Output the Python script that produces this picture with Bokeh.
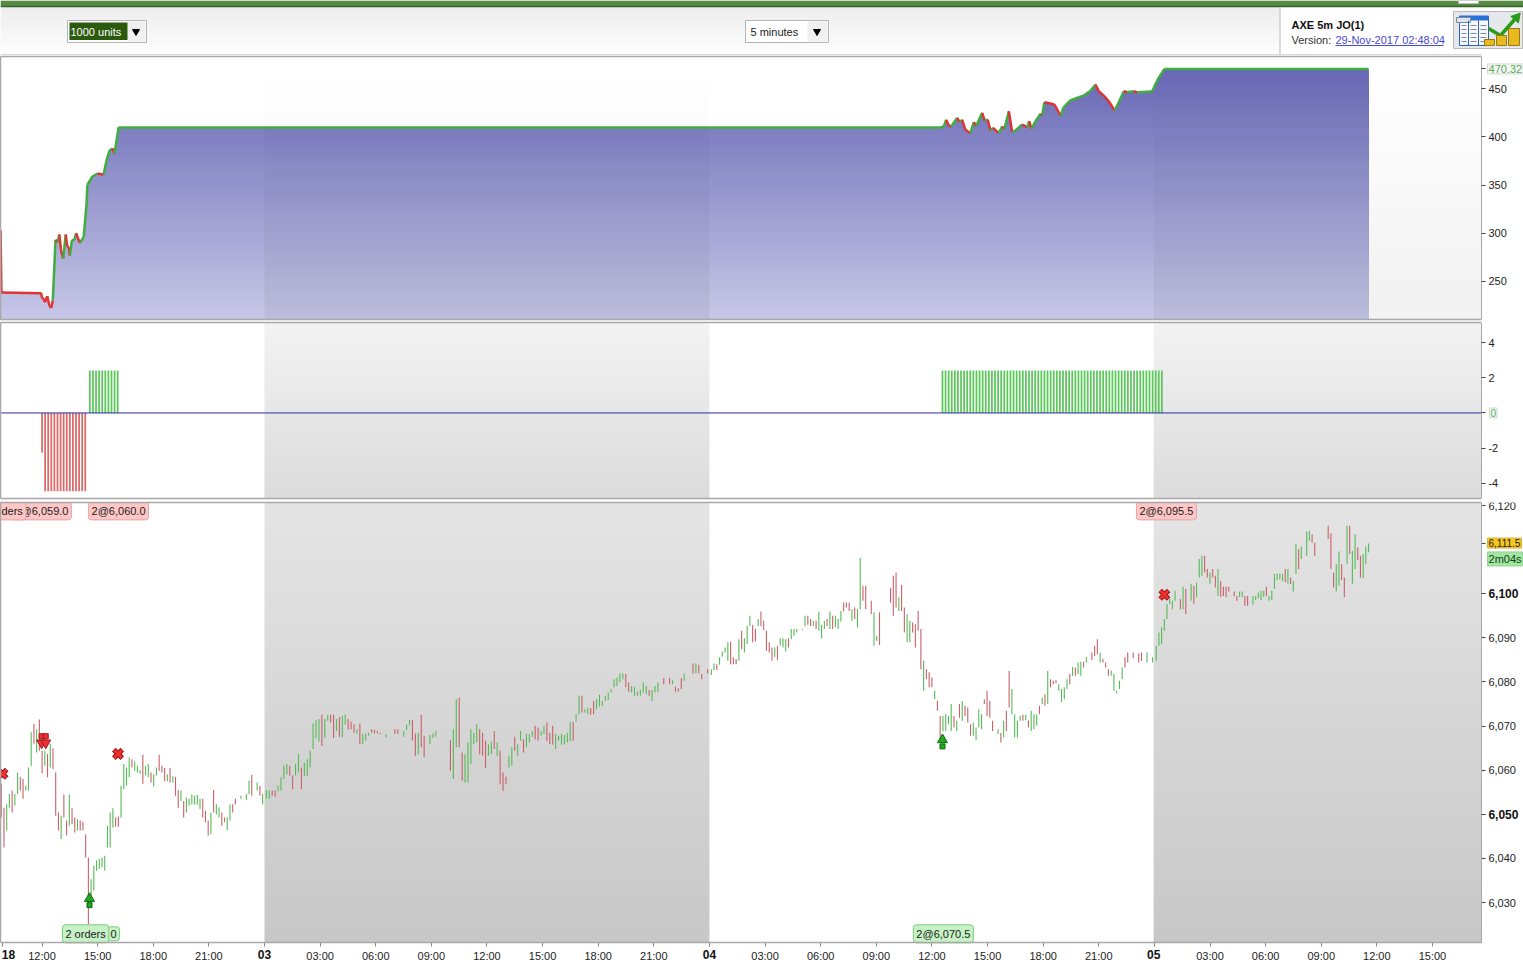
import numpy as np
from bokeh.plotting import figure
from bokeh.layouts import column
from bokeh.models import Label, Span, FixedTicker, LinearAxis
from bokeh.embed import file_html
from bokeh.resources import INLINE

FONT = "Liberation Sans"

# --- Prices, one list per session: bar highs, bar lows, R/G direction ('.' = no bar)
high_1 = [6057.0,6051.5,6052.3,6054.6,6055.4,6054.6,6059.4,6058.5,6058.0,6056.5,6060.6,6068.6,6070.5,6069.3,6071.5,6064.4,6064.4,6063.7,6066.0,6065.0,6059.5,6050.4,6049.7,6054.5,6048.6,6054.5,6051.4,6049.3,6048.9,6048.6,6048.3,6045.4,6040.2,6035.3,6038.4,6039.5,6039.9,6040.2,6040.6,6047.4,6050.4,6051.4,6049.3,6049.5,6056.5,6061.4,6060.6,6062.9,6062.5,6062.0,6061.0,6060.0,6063.5,6061.0,6061.4,6059.5,6059.1,6060.6,6063.5,6061.0,6060.5,6059.1,6060.5,6058.6,6058.5,6055.5,6055.4,6053.0,6053.8,6053.5,6054.5,6054.2,6054.4,6053.5,6053.5,6050.8,6048.6,6050.4,6055.5,6052.3,6051.6,6050.4,6049.3,6049.3,6052.2,6052.3,6053.5,None,6054.2,None,6054.6,6057.6,6058.9,None,6057.2,6056.5,6054.6]
low_1 = [6049.3,6042.5,6046.3,6051.5,6050.4,6052.0,6054.6,6055.4,6053.5,6055.4,6055.4,6061.0,6066.0,6064.0,6064.4,6059.3,6061.0,6058.4,6060.6,6060.3,6049.7,6046.3,6044.4,6049.3,6045.2,6047.4,6047.8,6045.9,6046.3,6046.3,6046.3,6040.2,6025.1,6031.5,6032.7,6037.2,6037.6,6038.0,6037.2,6042.5,6042.5,6047.0,6047.2,6047.2,6049.3,6055.7,6056.5,6058.4,6060.6,6059.9,6059.5,6059.2,6056.9,6058.8,6058.4,6057.2,6056.3,6058.8,6059.9,6059.5,6057.5,6057.5,6057.2,6057.2,6054.2,6051.4,6053.0,6049.3,6050.4,6052.0,6052.2,6052.2,6052.2,6051.2,6049.3,6048.2,6045.2,6045.5,6050.4,6050.0,6049.3,6047.4,6048.2,6046.4,6048.6,6050.4,6052.2,None,6053.5,None,6053.2,6054.6,6054.2,None,6055.4,6054.2,6052.2]
dir_1 = "RRGGRGGRRGGGRGRRGRGRRRGRRGRRGRRRRGGGGGGGGGRRGGGGRGGGRGGRGGRRRGRGRRGRGGGGGGRRRGRGGRRGGRR.G.GGR.GRG"

high_2 = [6055.5,6055.4,6055.4,6055.4,6056.5,6058.4,6061.0,6061.4,6061.0,6058.8,6061.4,6063.7,6060.6,6061.7,6062.5,6064.4,6070.6,6071.4,6071.6,6072.6,6071.6,6072.6,6072.6,6072.6,6071.6,6072.0,6072.3,6072.6,6071.6,6071.0,6070.4,6069.3,6070.6,6068.2,6068.3,6068.5,6069.3,6069.2,6068.9,6068.5,None,6068.2,None,None,6069.3,6069.3,None,6068.9,6070.3,6071.4,6071.4,6068.3,6068.5,6072.6,6067.8,None,6068.0,6068.3,6068.9,None,None,None,None,6066.8,6069.3,6076.1,6076.5,6064.0,6063.6,6066.3,6069.3,6068.5,6070.4,6069.3,6068.5,6066.7,6065.9,6066.5,6068.9,6066.3,6064.4,6059.5,6058.5,6063.3,6065.2,6067.6,6065.9,6068.9,6067.0,6068.2,6068.2,6068.9,6070.1,6069.7,6068.9,6070.1,6070.8,6068.5,6070.1,6068.2,6067.8,6068.2,6068.0,6068.5,6071.0,6071.0,6072.7,6076.9,6076.9,6073.8,6074.2,6074.1,6075.7,6076.1,6077.1,6075.7,6076.9,6077.6,6078.4,6080.6,6081.0,6081.9,6081.9,6081.8,6079.9,6079.1,6078.9,6077.8,6078.2,6079.9,6079.1,6078.2,6078.2,6079.1,6079.9,None,6080.9,None,6080.9,6080.4,6078.9,6078.6,6080.9,6081.9,None,None,6084.2,6084.2,6083.9,6081.8,None,6082.9]
low_2 = [6053.5,6053.5,6054.2,6054.0,6055.2,6055.4,6058.0,6059.1,6058.8,6055.7,6058.8,6059.5,6055.7,6058.7,6058.7,6060.6,6064.8,6067.3,6066.5,6065.5,6067.3,6071.2,6070.8,6067.3,6068.9,6067.6,6067.4,6070.3,6069.3,6069.3,6068.5,6068.2,6065.9,6065.9,6066.7,6067.8,6068.5,6068.3,6068.3,6068.2,None,6067.4,None,None,6068.2,6068.2,None,6067.6,6069.1,6070.1,6066.7,6063.3,6063.6,6065.2,6063.0,None,6065.9,6067.3,6067.6,None,None,None,None,6059.9,6058.0,6065.2,6065.2,6057.6,6057.2,6057.2,6061.4,6065.9,6066.3,6063.6,6063.3,6060.5,6063.3,6063.6,6064.8,6063.3,6056.8,6055.3,6056.8,6060.6,6061.0,6064.4,6063.3,6066.7,6064.0,6065.2,6066.3,6067.6,6067.0,6066.7,6067.8,6068.2,6066.7,6065.9,6065.8,6064.8,6066.7,6065.8,6065.8,6066.3,6066.5,6066.7,6071.0,6072.7,6073.1,6073.1,6072.7,6072.6,6072.7,6073.8,6074.4,6074.6,6075.7,6075.9,6077.6,6078.8,6079.1,6079.9,6080.6,6078.8,6077.8,6077.6,6076.9,6076.9,6076.9,6077.6,6077.2,6076.9,6075.7,6077.6,6077.8,None,6079.5,None,6079.5,6079.5,6077.8,6077.8,6078.4,6080.3,None,None,6081.9,6081.9,6081.9,6080.6,None,6081.9]
dir_2 = "GGRRGGGGRRGGRGGGGGGRGGRRGRGGRRRGRGGGRRRR.G..RR.GGGRRGRR.GGG....RGGRRGGGGGRRRGGRGRRRGGRGGRGGGRRGGRRRGGGGGGRGGRGGRRGGGGGGGGGGRRGGGGGGRGGGG.G.GRRRGG..GRRR.G"

high_3 = [6082.9,6084.2,6084.0,6085.6,6086.9,6087.8,6089.0,6089.2,6085.6,6085.2,6089.7,6091.6,6089.9,6092.7,6095.0,6093.0,6092.0,6094.3,6096.0,6093.9,6091.6,6089.0,6087.8,6087.8,6088.2,6089.9,6089.9,6089.7,6089.9,6092.0,6092.0,6092.0,None,6092.0,6095.0,6095.0,6094.3,6093.9,6093.9,6096.0,6093.0,6093.9,6094.3,6096.0,6095.0,6095.0,6094.3,6096.1,6098.0,6098.0,6098.0,6096.5,6096.9,6096.5,6108.1,6101.8,6101.8,None,6098.4,6095.8,6090.5,6095.8,None,None,None,6101.3,6104.1,6104.8,6099.2,6102.0,6096.9,6095.4,6093.9,6093.5,6093.1,6096.1,6092.0,6084.8,6082.9,6082.2,6081.0,6078.0,6075.7,6072.3,6072.3,6072.7,6072.3,6075.0,6072.3,6071.2,6075.0,6075.7,6074.6,6074.2,6070.4,6070.8,6069.7,6073.8,6072.7,6076.1,6078.0,6075.7,6071.2,None,6069.3,6068.5,6071.2,6073.5,6082.5,6078.4,6072.7,6071.2,6072.3,6072.6,6072.6,6071.3,6073.5,6072.7,6072.7,6074.6,6076.5,6077.2,6082.5,6080.6,6080.3,6080.4,6079.5,6078.4,6078.8,6080.6,6081.8,6083.4,6083.3,6084.4,6084.6,6084.6,6085.6,None,6086.7,6088.2,6089.7,6086.7,6085.2,6084.4,6082.9,6082.6,6081.8,6078.0,6080.3,6083.3,6085.6,6086.7,None,6086.7,None,6086.5,6086.7,None,6086.7,None,6085.6]
low_3 = [6081.6,6082.7,6082.7,6083.9,6085.7,6086.7,6084.8,6084.0,6084.0,6084.0,6084.8,6087.4,6086.7,6088.6,6092.7,6089.0,6089.2,6092.7,6092.7,6091.8,6087.1,6086.7,6084.8,6085.6,6085.0,6088.2,6087.8,6086.9,6087.8,6089.7,6090.5,6091.2,None,6091.8,6092.7,6093.0,6092.7,6092.7,6092.0,6091.6,6089.9,6092.0,6092.7,6092.0,6092.0,6092.4,6092.0,6093.7,6096.0,6096.9,6096.1,6093.9,6094.3,6092.4,6096.5,6098.4,6096.5,None,6095.4,6088.2,6089.3,6088.4,None,None,None,6098.0,6095.0,6096.9,6096.1,6096.1,6091.2,6089.0,6089.0,6091.2,6087.8,6091.6,6082.9,6078.0,6080.7,6078.8,6078.8,6076.1,6073.5,6066.7,6068.9,6068.9,6070.4,6068.9,6069.7,6068.9,6071.9,6071.2,6072.3,6070.8,6067.8,6067.8,6066.8,6069.7,6069.3,6075.0,6072.3,6071.9,6068.9,None,6068.2,6066.3,6067.4,6068.9,6074.2,6072.7,6067.4,6067.4,6071.2,6071.2,6071.3,6069.7,6068.9,6069.3,6070.1,6072.7,6075.0,6074.6,6075.0,6078.8,6079.5,6079.7,6078.0,6075.4,6076.1,6078.4,6079.5,6081.4,6081.4,6081.8,6081.4,6083.3,6084.4,None,6085.0,6085.9,6086.3,6084.4,6084.4,6083.3,6081.4,6081.4,6078.0,6077.4,6078.4,6080.6,6083.3,6084.4,None,6085.4,None,6084.4,6084.8,None,6084.4,None,6084.4]
dir_3 = "GGRGGGGRRRGRGGGRRGRRRRRGRGGGRGGG.GGRRGRGGGRGRGGGRRRGRGGR.RRGG...GRRRGRRGGRRRRGRRRGRRGGGGRGRGRRRGGGGRR.RGGRGRRGGGGRGRGGGRGRGRRRGGGGRGRGG.GGRRRGRRRGGGGG.R.RR.R.G"

high_4 = [6088.2,6091.2,6092.4,6094.3,6097.7,6098.8,6098.4,6100.7,None,6098.8,6101.6,6101.1,None,6102.3,6101.8,6102.6,6107.9,6108.6,6108.6,6105.6,6104.8,6105.6,6104.1,6105.6,6102.9,6101.6,6101.6,6101.6,None,6100.5,6099.5,6100.5,6100.5,6099.5,6099.5,None,6099.5,6099.5,6100.3,6100.7,6100.7,6101.6,6099.5,6100.7,6104.5,6104.6,6104.6,6104.5,6105.6,6105.6,6103.7,6102.9,6111.4,6110.1,6110.7,None,6114.1,6114.3,6113.5,6111.6,None,None,None,None,6115.4,6113.7,6104.8,6106.7,6109.6,6106.7,6103.7,6115.4,6115.4,6109.7,6113.5,6110.5,6108.6,6109.0,6110.7,6111.4]
low_4 = [6084.8,6088.2,6088.6,6091.6,6094.3,6097.7,6096.5,6098.4,None,6096.5,6096.5,6095.4,None,6098.4,6097.7,6099.2,6103.7,6104.1,6104.8,6103.7,6102.3,6103.7,6101.4,6099.5,6099.3,6099.5,6099.2,6100.5,None,6099.5,6098.4,6099.3,6099.3,6097.3,6097.3,None,6097.5,6098.6,6099.0,6098.6,6099.3,6099.5,6098.4,6098.6,6101.1,6103.1,6103.3,6102.9,6102.6,6102.3,6102.2,6100.5,6104.5,6105.6,6107.9,None,6108.6,6112.0,6111.6,6108.6,None,None,None,None,6112.4,6105.6,6101.4,6100.5,6101.8,6103.1,6099.3,6106.7,6109.0,6102.3,6105.6,6107.6,6103.7,6103.5,6106.7,6109.4]
dir_4 = "GGGGGGGG.RGR.GRGGGRRGRRGRRRR.RRGGRR.GGGGGRGGGGGGRGRGGRG.GGRR....RRRGGRRGRGGRRGGG"

# --- Equity curve: time in hours from the start of day 03, and equity value
equity_time = [-14.24,-14.19,-12.04,-12.01,-11.9,-11.85,-11.72,-11.6,-11.5,-11.42,-11.27,-11.15,-11.07,-10.97,-10.86,-10.72,-10.64,-10.56,-10.5,-10.39,-10.25,-10.16,-9.96,-9.83,-9.75,-9.6,-9.55,-9.28,-9.01,-8.68,-8.52,-8.36,-8.2,-8.09,-7.87,36.46,36.64,36.77,36.91,37.04,37.36,37.5,37.63,37.81,38.08,38.26,38.4,38.71,38.85,39.01,39.16,39.3,39.6,39.79,39.91,40.15,40.33,40.51,40.87,41.14,41.25,41.37,41.59,41.86,41.95,42.07,42.61,42.84,42.97,43.08,43.47,43.92,44.19,44.52,44.83,45.0,45.27,45.54,45.85,46.08,46.35,46.53,46.89,47.07,47.88,48.15,48.54,59.55]
equity_value = [303,238.6,237.9,233.1,232.1,228.5,234.8,224.8,222.7,230.3,293.2,290.7,298.7,282.1,273.5,298.7,286.3,285.5,276.9,292.5,293.2,300.1,289.7,294.2,295.9,330.5,350.5,358.8,361.9,360.9,375.4,385.8,387.8,382.6,409.6,409.6,410.6,417.6,411.7,410.6,419.6,415.1,417.6,407.2,403.7,415.1,411.7,424.8,416.8,417.6,406.5,409.3,403.7,410.6,408.2,426.5,404.7,406.5,412.7,409.9,416.1,408.2,416.1,423.8,422.0,435.8,433.4,425.4,422.0,430.0,437.6,441.0,442.7,447.2,454.1,447.2,442.7,436.8,427.2,435.8,447.2,446.2,447.2,446.2,446.9,458.3,470.32,470.32]

# --- Position size
position_red = [-2.24] + [-4.45] * 14
position_green_1 = [2.41] * 10
position_green_2 = [2.41] * 72

# --- Trades
exit_time = [-14.13, -7.9, 48.54]
exit_price = [6059.2, 6063.7, 6099.8]
short_time = [-12.02, -11.8]
short_price = [6066.9, 6066.9]
long_time = [-9.44, 36.57]
long_price = [6030.2, 6066.2]

# --- Ticks
equity_ticks = [250, 300, 350, 400, 450]
position_ticks = [-4, -2, 2, 4]
price_ticks = [6030, 6040, 6060, 6070, 6080, 6090, 6120]
price_bold_ticks = [6050, 6100]
hour_ticks = [-14.15] + list(range(-12, 64, 3))
hour_labels = {-12:"12:00",-9:"15:00",-6:"18:00",-3:"21:00",3:"03:00",6:"06:00",9:"09:00",12:"12:00",15:"15:00",18:"18:00",21:"21:00",27:"03:00",30:"06:00",33:"09:00",36:"12:00",39:"15:00",42:"18:00",45:"21:00",51:"03:00",54:"06:00",57:"09:00",60:"12:00",63:"15:00"}
day_labels = {-13.81:"18", 0:"03", 24:"04", 47.96:"05"}

XR = (-14.24, 67.91)   # the frame runs to the page edge; the plot proper ends at PLOT_END
PLOT_END = 65.64
GUTTER = 65.97         # left edge of the value tags beside the right axis
DAYS = [(0, 24), (47.96, PLOT_END)]
GREEN, RED = "#56bb56", "#c9606a"
W = 1523


def style_axis(ax, size="11px", style="normal", color="#222222", tick="#444444"):
    ax.major_label_text_font = FONT
    ax.major_label_text_font_size = size
    ax.major_label_text_font_style = style
    ax.major_label_text_color = color
    ax.major_label_standoff = 3
    ax.major_tick_out = 4
    ax.major_tick_in = 0
    ax.minor_tick_out = 0
    ax.minor_tick_in = 0
    ax.axis_line_color = "#a8a8a8"
    ax.major_tick_line_color = tick


def panel(height, yr, plot_bottom, top, ticks, bold=None, tag_ticks=()):
    p = figure(width=W, height=height, x_range=XR, y_range=yr, output_backend="svg",
               toolbar_location=None, min_border_left=0, min_border_right=0,
               min_border_top=top, min_border_bottom=0, y_axis_location=None,
               x_axis_location=None, background_fill_color="white", border_fill_color="white")
    p.grid.visible = False
    p.outline_line_color = None
    b = (plot_bottom, yr[1])
    ax = LinearAxis(fixed_location=PLOT_END, bounds=b, ticker=FixedTicker(ticks=list(ticks) + list(bold or []) + list(tag_ticks)))
    style_axis(ax)
    ax.major_label_overrides = {t: ("" if (t in (bold or []) or t in tag_ticks) else f"{t:,}") for t in ax.ticker.ticks}
    p.add_layout(ax, "right")
    if bold:
        ax2 = LinearAxis(fixed_location=PLOT_END, bounds=b, ticker=FixedTicker(ticks=list(bold)))
        style_axis(ax2, size="12px", style="bold", color="#111111")
        ax2.major_label_overrides = {t: f"{t:,}" for t in bold}
        p.add_layout(ax2, "right")
    # top, bottom and left edges of the plot box
    p.segment([XR[0], XR[0], XR[0]], [yr[1], plot_bottom, plot_bottom], [PLOT_END, PLOT_END, XR[0]],
              [yr[1], plot_bottom, yr[1]], line_color="#a8a8a8", line_width=1.5, level="overlay")
    return p


def shade(p, y0, y1, rgba_top, rgba_bot):
    for a, b in DAYS:
        img = np.zeros((128, 1, 4), np.uint8)
        t = np.linspace(0, 1, 128)[:, None]
        # row 0 of an image is its lowest row on screen
        img[:, :, :] = (np.array(rgba_bot) * (1 - t) + np.array(rgba_top) * t)[:, None, :].astype(np.uint8)
        p.image_rgba(image=[img.view(np.uint32).reshape(128, 1)], x=a, y=y0, dw=b - a, dh=y1 - y0)


def tag(p, text, x, y, bg, border, color="#222222", size="11px", pad=3, radius=3):
    p.add_layout(Label(x=x, y=y, text=text, text_font=FONT, text_font_size=size, text_color=color,
                       text_baseline="middle", background_fill_color=bg, border_line_color=border,
                       padding=pad, border_radius=radius))


# ---------- header ----------
head = figure(width=W, height=55, x_range=(0, W), y_range=(55, 0), output_backend="svg",
              toolbar_location=None, min_border=0, x_axis_location=None, y_axis_location=None,
              border_fill_color="white")
head.frame_align = False
head.grid.visible = False
head.outline_line_color = None
g = np.zeros((64, 1, 4), np.uint8)
tt = np.linspace(0, 1, 64)
for k in range(3):
    g[:, 0, k] = (235 + 20 * tt).astype(np.uint8)
g[:, 0, 3] = 255
head.image_rgba(image=[g.view(np.uint32).reshape(64, 1)], x=0, y=0, dw=W, dh=55)
head.quad(left=[1280], right=[W], top=[6], bottom=[55], fill_color="white", line_color=None)
head.quad(left=[0], right=[W], top=[0], bottom=[6], fill_color="#578a45", line_color=None)
head.segment(0, 6, W, 6, line_color="#35632a", line_width=1.5)
head.quad(left=[1458], right=[1478], top=[0], bottom=[3], fill_color="white", line_color="#bbbbbb")
head.segment(0, 54.5, 1481, 54.5, line_color="#b0b0b0")
head.quad(left=[67, 745], right=[146, 828], top=[20, 20], bottom=[42, 42], fill_color="white", line_color="#b4b4b4")
head.quad(left=[127, 807], right=[145, 827], top=[21, 21], bottom=[41, 41], fill_color="#f0f0f0", line_color=None)
head.quad(left=[69], right=[127], top=[22], bottom=[39.5], fill_color="#2b5a0e", line_color=None)
head.scatter([135.5, 816.5], [31, 31], marker="inverted_triangle", size=7, color="black")
head.text([70], [31], text=["1000 units"], text_font_size="11px", text_font={"value": FONT}, text_color="white", text_baseline="middle")
head.text([750], [31], text=["5 minutes"], text_font_size="11px", text_font={"value": FONT}, text_color="#222222", text_baseline="middle")
head.segment(1279.5, 8, 1279.5, 54, line_color="#bbbbbb")
head.text([1291], [24], text=["AXE 5m JO(1)"], text_font_size="11px", text_font_style="bold", text_font={"value": FONT}, text_color="#111111", text_baseline="middle")
head.text([1291], [39], text=["Version:"], text_font_size="11px", text_font={"value": FONT}, text_color="#333333", text_baseline="middle")
head.text([1335], [39], text=["29-Nov-2017 02:48:04"], text_font_size="11px", text_font={"value": FONT}, text_color="#4a4ad0", text_baseline="middle")
head.segment(1335, 45, 1443, 45, line_color="#4a4ad0")
# report icon
head.quad(left=[1453], right=[1522], top=[11], bottom=[48], fill_color="#e6e8ec", line_color="#b8b8b8")
head.quad(left=[1459], right=[1488], top=[16], bottom=[45], fill_color="#f6f8fc", line_color="#2b62b8")
head.quad(left=[1459], right=[1488], top=[15], bottom=[20], fill_color="#2b72d8", line_color=None)
head.quad(left=[1456], right=[1470], top=[17], bottom=[22], fill_color="#dfe6f0", line_color="#7a8aa0")
head.segment([1468, 1478], [20, 20], [1468, 1478], [45, 45], line_color="#2b62b8")
for row in [25, 29, 33, 37, 41]:
    head.segment([1461, 1470, 1480], [row, row, row], [1466, 1476, 1486], [row, row, row], line_color="#7a8aa0")
head.line([1488, 1500, 1515], [28, 35, 18], line_color="#2a9a1a", line_width=3.5)
head.scatter([1516], [17], marker="triangle", size=10, color="#2a9a1a", angle=-0.7)
head.quad(left=[1484, 1496, 1508], right=[1494, 1506, 1519], top=[39, 35, 28], bottom=[45, 45, 45], fill_color="#e8b820", line_color="#9a7a10")

# ---------- equity ----------
p1 = panel(266, (210.6, 483.2), 210.6, 1, equity_ticks, tag_ticks=(470.32,))
p1.min_border_bottom = 2
et, ev = np.array(equity_time), np.array(equity_value)
n_band = 48
edges = np.linspace(483.2, 210.6, n_band + 1)
for i in range(n_band):
    f = (i + 0.5) / n_band
    f2 = max(0.0, (f - 0.05) / 0.95)
    r = int(104 + (200 - 104) * f2)
    b = int(182 + (232 - 182) * f2)
    p1.varea(et, np.minimum(ev, edges[i]), 210.6, fill_color=f"#{r:02x}{r:02x}{b:02x}")
shade(p1, 210.6, 483.2, (0, 0, 0, 0), (0, 0, 0, 14))
n_red_start = 9
seg_color = ["#e03434" if (i < n_red_start or ev[i + 1] < ev[i]) else "#3fae3f" for i in range(len(et) - 1)]
p1.segment(et[:-1], ev[:-1], et[1:], ev[1:], line_color=seg_color, line_width=2.5)
tag(p1, "470.32", GUTTER, 470.32, "#f7f7f7", "#cfd8cf", color="#52b052", pad=1, radius=0)

# ---------- position ----------
p2 = panel(179, (-4.86, 5.14), -4.86, 1, position_ticks, tag_ticks=(0,))
p2.min_border_bottom = 2
shade(p2, -4.86, 5.14, (243, 243, 243, 255), (220, 220, 220, 255))
step = 1 / 6
red_t = -12.0 + step * np.arange(len(position_red))
g1_t = -9.42 + step * np.arange(len(position_green_1))
g2_t = 36.57 + step * np.arange(len(position_green_2))
p2.vbar(red_t, 0.095, 0, position_red, fill_color="#d96a6a", line_color=None)
p2.vbar(g1_t, 0.095, 0, position_green_1, fill_color="#5cc85c", line_color=None)
p2.vbar(g2_t, 0.095, 0, position_green_2, fill_color="#5cc85c", line_color=None)
p2.segment(XR[0], 0, PLOT_END, 0, line_color="#2a2aa8", line_width=1)
tag(p2, "0", GUTTER + 0.1, 0, "#f7f7f7", "#cfd8cf", color="#52b052", size="10px", pad=1, radius=0)

# ---------- price ----------
PRICE_BOTTOM = 6020.93
p3 = panel(463, (6016.17, 6120.7), PRICE_BOTTOM, 2, price_ticks, bold=price_bold_ticks, tag_ticks=(6111.5,))
shade(p3, PRICE_BOTTOM, 6120.7, (229, 229, 229, 255), (200, 200, 200, 255))
xs, lo, hi, col = [], [], [], []
for (h, l, d, a, b) in [(high_1, low_1, dir_1, -14.2, -0.1), (high_2, low_2, dir_2, 0.1, 23.9),
                        (high_3, low_3, dir_3, 24.1, 47.9), (high_4, low_4, dir_4, 48.1, 59.55)]:
    t = np.linspace(a, b, len(h))
    for i in range(len(h)):
        if h[i] is not None:
            xs.append(t[i]); hi.append(h[i]); lo.append(l[i])
            col.append(GREEN if d[min(i, len(d) - 1)] == "G" else RED)
p3.segment(xs, lo, xs, hi, line_color=col, line_width=1.1)

# trade markers
p3.scatter(exit_time, exit_price, marker="x", size=12, line_color="#9a1414", line_width=5)
p3.scatter(exit_time, exit_price, marker="x", size=11, line_color="#ee3030", line_width=3)
ls = np.array(long_price)
p3.scatter(long_time, ls - 0.8, marker="square", size=5, fill_color="#20a820", line_color="#0c6a0c")
p3.scatter(long_time, ls + 0.7, marker="triangle", size=10, fill_color="#20a820", line_color="#0c6a0c")
ss = np.array(short_price)
p3.scatter(short_time, ss + 0.8, marker="square", size=5, fill_color="#ee3038", line_color="#a01818")
p3.scatter(short_time, ss - 0.7, marker="inverted_triangle", size=10, fill_color="#ee3038", line_color="#a01818")

# order tags
PINK, PINK_E, MINT, MINT_E = "#ffc6c6", "#e6a6a6", "#c6f2c6", "#7ccc7c"
tag(p3, "2@6,059.0", -13.65, 6118.8, PINK, PINK_E)
tag(p3, "ders", -14.35, 6118.8, PINK, PINK_E)
tag(p3, "2@6,060.0", -9.49, 6118.8, PINK, PINK_E)
tag(p3, "2@6,095.5", 47.03, 6118.8, PINK, PINK_E)
tag(p3, "0", -8.47, 6022.9, MINT, MINT_E)
tag(p3, "2 orders", -10.9, 6022.9, MINT, MINT_E)
tag(p3, "2@6,070.5", 35.0, 6022.9, MINT, MINT_E)

# value tags beside the axis
tag(p3, "6,111.5", GUTTER, 6111.5, "#f6c71e", "#d8b030", size="10px", pad=1, radius=0)
tag(p3, "2m04s", GUTTER, 6107.9, "#a2e6a2", "#8ed68e", color="#114411", pad=1, radius=0)

# x axes: the hours, and the dates in bold on top of them
xa = LinearAxis(fixed_location=PRICE_BOTTOM, bounds=(XR[0], PLOT_END), ticker=FixedTicker(ticks=hour_ticks))
style_axis(xa, tick="#888888")
xa.major_label_overrides = {t: hour_labels.get(t, "") for t in hour_ticks}
p3.add_layout(xa, "below")
xd = LinearAxis(fixed_location=PRICE_BOTTOM, bounds=(XR[0], PLOT_END), ticker=FixedTicker(ticks=list(day_labels)))
style_axis(xd, size="12px", style="bold", color="#111111", tick=None)
xd.axis_line_color = None
xd.major_label_overrides = day_labels
p3.add_layout(xd, "below")

# closing rule under the chart
strip = figure(width=W, height=2, x_range=(0, 1), y_range=(0, 1), output_backend="svg", toolbar_location=None,
               min_border=0, x_axis_location=None, y_axis_location=None, background_fill_color="#b0b0b0",
               border_fill_color="#b0b0b0")
strip.frame_align = False
strip.grid.visible = False
strip.outline_line_color = None

page = column(head, p1, p2, p3, strip, spacing=0)
open("out.html", "w").write(file_html(page, INLINE))
